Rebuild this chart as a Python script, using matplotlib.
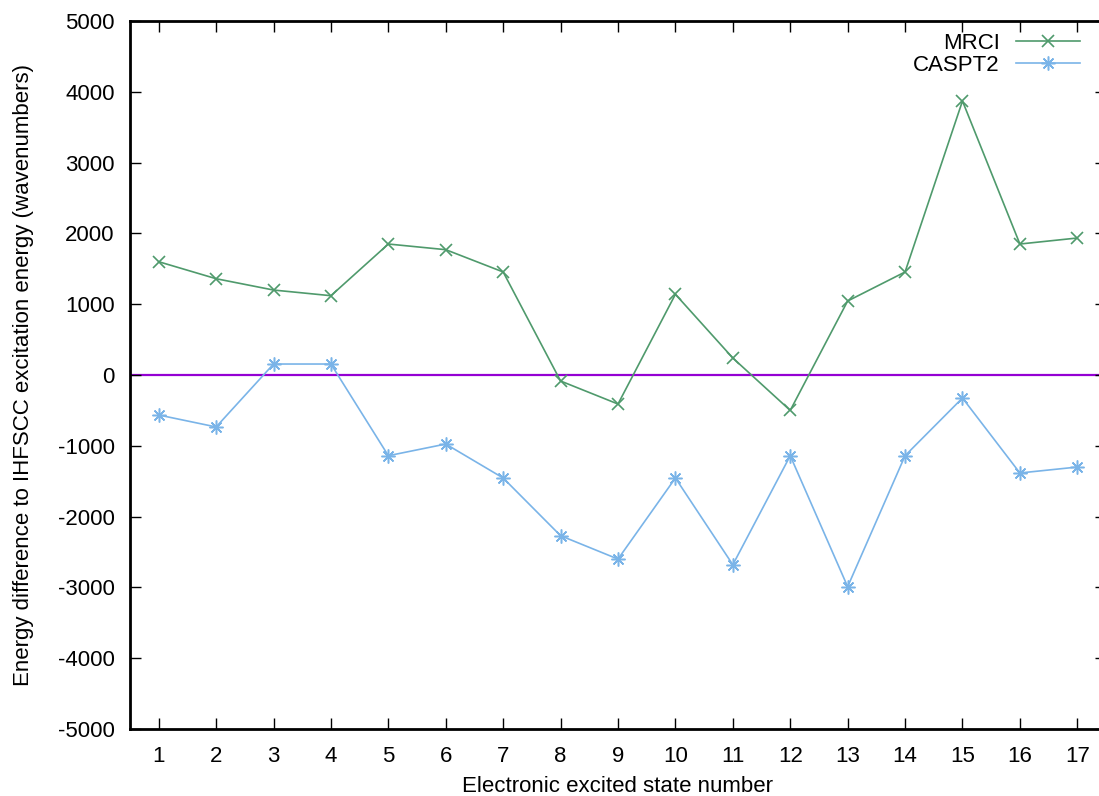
import matplotlib
matplotlib.use("Agg")
import matplotlib.pyplot as plt

states = list(range(1, 18))
mrci = [1600, 1360, 1200, 1120, 1850, 1770, 1455, -85, -410, 1140, 240, -500,
        1045, 1455, 3870, 1850, 1935]
caspt2 = [-565, -734, 155, 155, -1140, -975, -1455, -2270, -2600, -1455, -2680,
          -1140, -2990, -1140, -325, -1384, -1300]
yticks = list(range(-5000, 5001, 1000))

plt.rcParams['font.family'] = ['Liberation Sans', 'DejaVu Sans']
plt.rcParams['font.size'] = 16
plt.rcParams['axes.unicode_minus'] = False

fig = plt.figure(figsize=(10.99, 7.96), dpi=100)
ax = fig.add_axes([130/1099, 1-729/796, (1106-130)/1099, (729-21)/796])

green = '#4f9a6c'
blue = '#7ab4e8'
ax.axhline(0, color='#9400d3', lw=1.6, zorder=1)
ax.plot(states, mrci, color=green, lw=1.2, marker='x', ms=9, mew=1.2, label='MRCI', zorder=3)
ax.plot(states, caspt2, color=blue, lw=1.2, marker=(8, 2, 0), ms=10, mew=1.1, label='CASPT2', zorder=3)

ax.set_xlim(0.5, 17.5)
ax.set_ylim(-5000, 5000)
ax.set_xticks(states)
ax.set_yticks(yticks)
ax.tick_params(direction='in', length=8, width=1, top=True, right=True, labelsize=16)
ax.tick_params(axis='x', pad=12)
ax.tick_params(axis='y', pad=11)
for s in ax.spines.values():
    s.set_linewidth(2)

ax.set_xlabel('Electronic excited state number', fontsize=16, labelpad=7)
ax.set_ylabel('Energy difference to IHFSCC excitation energy (wavenumbers)', fontsize=16, labelpad=17)

leg = ax.legend(loc='upper right', bbox_to_anchor=(1080/1099, 1-33/796),
                bbox_transform=fig.transFigure, frameon=False, markerfirst=False,
                handlelength=2.9, handletextpad=0.7, labelspacing=0.05, borderaxespad=0,
                borderpad=0, fontsize=16)

fig.savefig('out.png', dpi=100)
